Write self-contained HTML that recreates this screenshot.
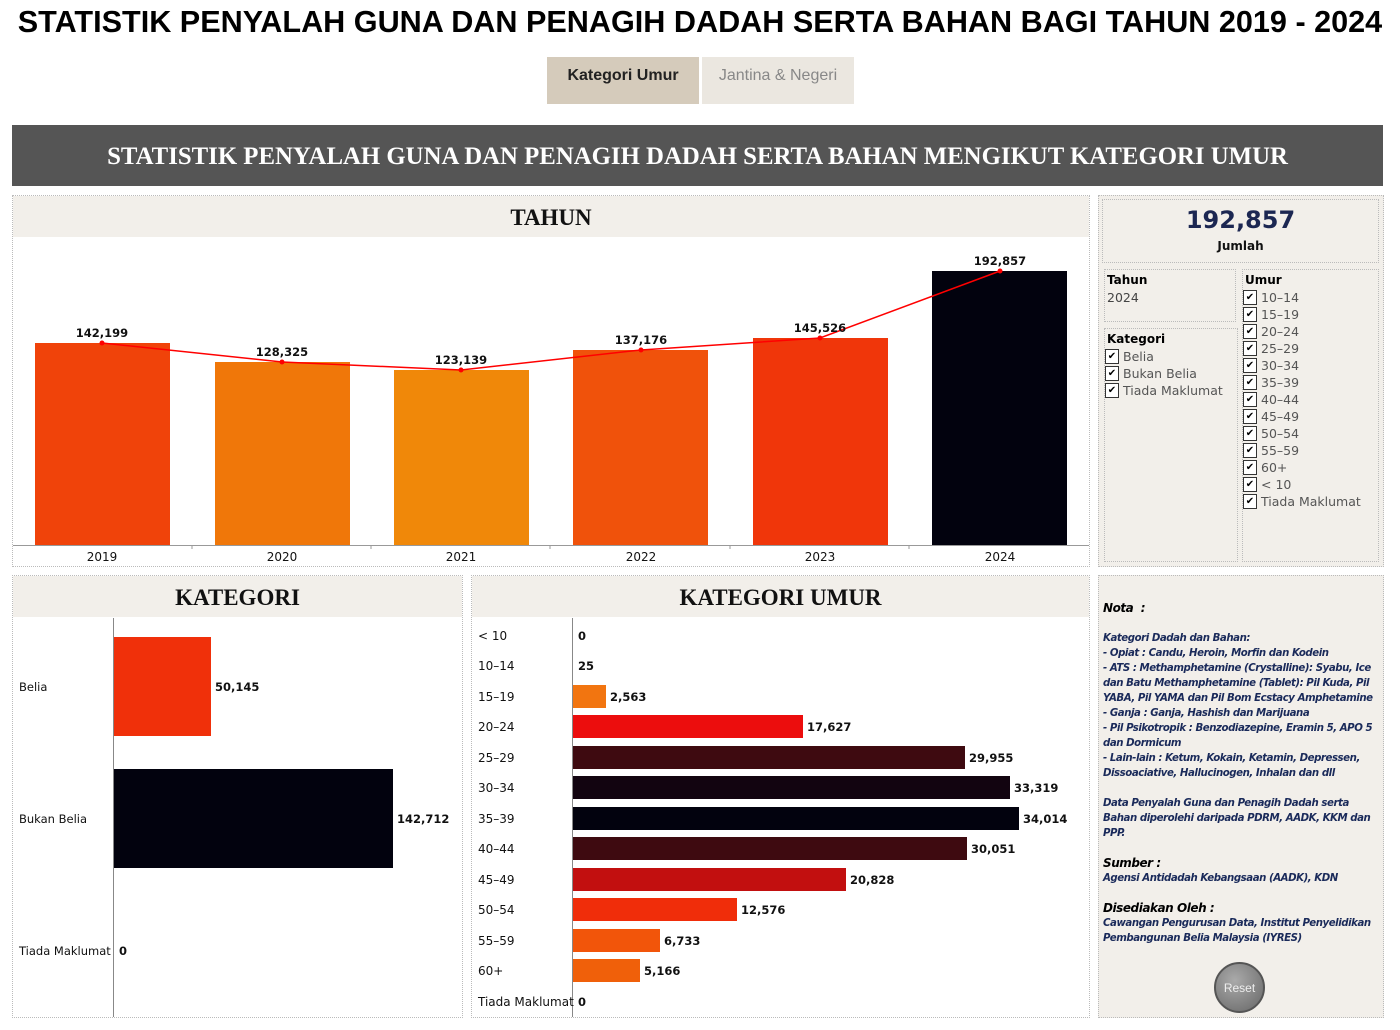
<!DOCTYPE html>
<html><head><meta charset="utf-8"><style>
*{margin:0;padding:0;box-sizing:border-box}
body{width:1400px;height:1030px;background:#fff;position:relative;overflow:hidden;font-family:"Liberation Sans",sans-serif}
.a{position:absolute}
.panel{position:absolute;border:1px dotted #bbb}
.hdr{position:absolute;background:#f2efea;font-family:"Liberation Serif",serif;font-weight:bold;font-size:23px;text-align:center;color:#111}
.side{background:#f2efea}
.cb{display:flex;align-items:center;height:17px;font-size:12.5px;color:#555;font-family:"DejaVu Sans",sans-serif}
.cb i{display:inline-block;width:14px;height:15px;border:1px solid #333;background:#fff;margin-right:4px;font-style:normal;font-size:10px;line-height:13px;text-align:center;color:#000;font-weight:bold}
.nota{font-family:"DejaVu Sans",sans-serif;font-style:italic;font-weight:bold;font-size:10.2px;color:#1a2a5a;line-height:15px;letter-spacing:-0.45px}
</style></head><body>
<div class="a" style="left:0;top:5px;width:1400px;text-align:center;font-weight:bold;font-size:30.6px;color:#000">STATISTIK PENYALAH GUNA DAN PENAGIH DADAH SERTA BAHAN BAGI TAHUN 2019 - 2024</div>
<div class="a" style="left:547px;top:57px;width:152px;height:47px;background:#d5cbbb;font-size:16px;font-weight:bold;color:#222;text-align:center;line-height:38px">Kategori Umur</div>
<div class="a" style="left:702px;top:57px;width:152px;height:47px;background:#ebe7e0;font-size:16px;color:#888;text-align:center;line-height:38px">Jantina &amp; Negeri</div>
<div class="a" style="left:12px;top:125px;width:1371px;height:61px;background:#555;color:#fff;font-family:'Liberation Serif',serif;font-weight:bold;font-size:24.8px;text-align:center;line-height:64px">STATISTIK PENYALAH GUNA DAN PENAGIH DADAH SERTA BAHAN MENGIKUT KATEGORI UMUR</div>

<div class="panel" style="left:12px;top:195px;width:1078px;height:372px"></div>
<div class="hdr" style="left:13px;top:196px;width:1076px;height:41px;line-height:43px">TAHUN</div>
<svg class="a" style="left:0;top:0" width="1400" height="1030">
<g font-family="DejaVu Sans,sans-serif" font-size="11.5" font-weight="bold" text-anchor="middle" fill="#111">
<rect x="35" y="343" width="135" height="202" fill="#f0430a"/>
<rect x="215" y="362" width="135" height="183" fill="#f07709"/>
<rect x="394" y="370" width="135" height="175" fill="#f08809"/>
<rect x="573" y="350" width="135" height="195" fill="#f0520b"/>
<rect x="753" y="338" width="135" height="207" fill="#f0360a"/>
<rect x="932" y="271" width="135" height="274" fill="#02020e"/>
<polyline points="102,343 282,362 461,370 641,350 820,338 1000,271" fill="none" stroke="#f00" stroke-width="1.5"/>
<g fill="#f00"><circle cx="102" cy="343" r="2.5"/><circle cx="282" cy="362" r="2.5"/><circle cx="461" cy="370" r="2.5"/><circle cx="641" cy="350" r="2.5"/><circle cx="820" cy="338" r="2.5"/><circle cx="1000" cy="271" r="2.5"/></g>
<text x="102" y="337">142,199</text><text x="282" y="356">128,325</text><text x="461" y="364">123,139</text><text x="641" y="344">137,176</text><text x="820" y="332">145,526</text><text x="1000" y="265">192,857</text>
<line x1="13" y1="545.5" x2="1089" y2="545.5" stroke="#999"/>
<g stroke="#999"><line x1="192" y1="545" x2="192" y2="549"/><line x1="371" y1="545" x2="371" y2="549"/><line x1="550" y1="545" x2="550" y2="549"/><line x1="730" y1="545" x2="730" y2="549"/><line x1="909" y1="545" x2="909" y2="549"/></g>
<g font-weight="normal" font-size="12"><text x="102" y="561">2019</text><text x="282" y="561">2020</text><text x="461" y="561">2021</text><text x="641" y="561">2022</text><text x="820" y="561">2023</text><text x="1000" y="561">2024</text></g>
</g>
</svg>

<div class="panel side" style="left:1098px;top:195px;width:286px;height:372px"></div>
<div class="panel" style="left:1102px;top:199px;width:277px;height:64px"></div>
<div class="a" style="left:1102px;top:206px;width:277px;text-align:center;font-family:'DejaVu Sans',sans-serif;font-weight:bold;font-size:24px;color:#1c2752">192,857</div>
<div class="a" style="left:1102px;top:239px;width:277px;text-align:center;font-family:'DejaVu Sans',sans-serif;font-weight:bold;font-size:12px;color:#111">Jumlah</div>
<div class="panel" style="left:1104px;top:269px;width:132px;height:53px"></div>
<div class="a" style="left:1107px;top:273px;font-family:'DejaVu Sans',sans-serif;font-size:12px;font-weight:bold">Tahun</div>
<div class="a" style="left:1107px;top:290px;font-family:'DejaVu Sans',sans-serif;font-size:12.5px;color:#444">2024</div>
<div class="panel" style="left:1104px;top:328px;width:134px;height:234px"></div>
<div class="a" style="left:1107px;top:332px;font-family:'DejaVu Sans',sans-serif;font-size:12px;font-weight:bold">Kategori</div>
<div class="a" style="left:1105px;top:348px">
<div class="cb"><i>✔</i>Belia</div><div class="cb"><i>✔</i>Bukan Belia</div><div class="cb"><i>✔</i>Tiada Maklumat</div></div>
<div class="panel" style="left:1242px;top:269px;width:137px;height:293px"></div>
<div class="a" style="left:1245px;top:273px;font-family:'DejaVu Sans',sans-serif;font-size:12px;font-weight:bold">Umur</div>
<div class="a" style="left:1243px;top:289px">
<div class="cb"><i>✔</i>10–14</div><div class="cb"><i>✔</i>15–19</div><div class="cb"><i>✔</i>20–24</div><div class="cb"><i>✔</i>25–29</div><div class="cb"><i>✔</i>30–34</div><div class="cb"><i>✔</i>35–39</div><div class="cb"><i>✔</i>40–44</div><div class="cb"><i>✔</i>45–49</div><div class="cb"><i>✔</i>50–54</div><div class="cb"><i>✔</i>55–59</div><div class="cb"><i>✔</i>60+</div><div class="cb"><i>✔</i>&lt; 10</div><div class="cb"><i>✔</i>Tiada Maklumat</div></div>

<div class="panel" style="left:12px;top:575px;width:451px;height:443px"></div>
<div class="hdr" style="left:13px;top:576px;width:449px;height:41px;line-height:43px">KATEGORI</div>
<div class="panel" style="left:471px;top:575px;width:619px;height:443px"></div>
<div class="hdr" style="left:472px;top:576px;width:617px;height:41px;line-height:43px">KATEGORI UMUR</div>
<svg class="a" style="left:0;top:0" width="1400" height="1030">
<g font-family="DejaVu Sans,sans-serif" font-size="11.5" fill="#111">
<line x1="113.5" y1="618" x2="113.5" y2="1017" stroke="#888"/>
<rect x="114" y="637" width="97" height="99" fill="#f0300a"/>
<rect x="114" y="769" width="279" height="99" fill="#02020e"/>
<text x="19" y="691">Belia</text><text x="19" y="823">Bukan Belia</text><text x="19" y="955">Tiada Maklumat</text>
<g font-weight="bold"><text x="215" y="691">50,145</text><text x="397" y="823">142,712</text><text x="119" y="955">0</text></g>
<line x1="572.5" y1="618" x2="572.5" y2="1017" stroke="#888"/>
<rect x="573" y="685" width="33" height="23" fill="#f27510"/>
<rect x="573" y="715" width="230" height="23" fill="#ec0d0d"/>
<rect x="573" y="746" width="392" height="23" fill="#3e0a10"/>
<rect x="573" y="776" width="437" height="23" fill="#120410"/>
<rect x="573" y="807" width="446" height="23" fill="#02020e"/>
<rect x="573" y="837" width="394" height="23" fill="#3e0a10"/>
<rect x="573" y="868" width="273" height="23" fill="#c20f0f"/>
<rect x="573" y="898" width="164" height="23" fill="#f02d0a"/>
<rect x="573" y="929" width="87" height="23" fill="#f2550a"/>
<rect x="573" y="959" width="67" height="23" fill="#f0600a"/>
<g font-size="12"><text x="478" y="640">&lt; 10</text><text x="478" y="670">10–14</text><text x="478" y="701">15–19</text><text x="478" y="731">20–24</text><text x="478" y="762">25–29</text><text x="478" y="792">30–34</text><text x="478" y="823">35–39</text><text x="478" y="853">40–44</text><text x="478" y="884">45–49</text><text x="478" y="914">50–54</text><text x="478" y="945">55–59</text><text x="478" y="975">60+</text><text x="478" y="1006">Tiada Maklumat</text></g>
<g font-weight="bold"><text x="578" y="640">0</text><text x="578" y="670">25</text><text x="610" y="701">2,563</text><text x="807" y="731">17,627</text><text x="969" y="762">29,955</text><text x="1014" y="792">33,319</text><text x="1023" y="823">34,014</text><text x="971" y="853">30,051</text><text x="850" y="884">20,828</text><text x="741" y="914">12,576</text><text x="664" y="945">6,733</text><text x="644" y="975">5,166</text><text x="578" y="1006">0</text></g>
</g>
</svg>

<div class="panel side" style="left:1098px;top:575px;width:286px;height:443px"></div>
<div class="a nota" style="left:1103px;top:601px;width:275px">
<div style="font-size:12px;color:#000">Nota&nbsp; :</div><br>
<div>Kategori Dadah dan Bahan:<br>- Opiat : Candu, Heroin, Morfin dan Kodein<br>- ATS : Methamphetamine (Crystalline): Syabu, Ice dan Batu Methamphetamine (Tablet): Pil Kuda, Pil YABA, Pil YAMA dan Pil Bom Ecstacy Amphetamine<br>- Ganja : Ganja, Hashish dan Marijuana<br>- Pil Psikotropik : Benzodiazepine, Eramin 5, APO 5 dan Dormicum<br>- Lain-lain : Ketum, Kokain, Ketamin, Depressen, Dissoaciative, Hallucinogen, Inhalan dan dll</div><br>
<div>Data Penyalah Guna dan Penagih Dadah serta Bahan diperolehi daripada PDRM, AADK, KKM dan PPP.</div><br>
<div style="font-size:12px;color:#000">Sumber :</div><div>Agensi Antidadah Kebangsaan (AADK), KDN</div><br>
<div style="font-size:12px;color:#000">Disediakan Oleh :</div><div>Cawangan Pengurusan Data, Institut Penyelidikan Pembangunan Belia Malaysia (IYRES)</div>
</div>
<div class="a" style="left:1214px;top:962px;width:51px;height:51px;border-radius:50%;background:radial-gradient(circle at 40% 35%,#aaa,#666);border:2px solid #555;color:#eee;font-size:12px;text-align:center;line-height:49px">Reset</div>
</body></html>
